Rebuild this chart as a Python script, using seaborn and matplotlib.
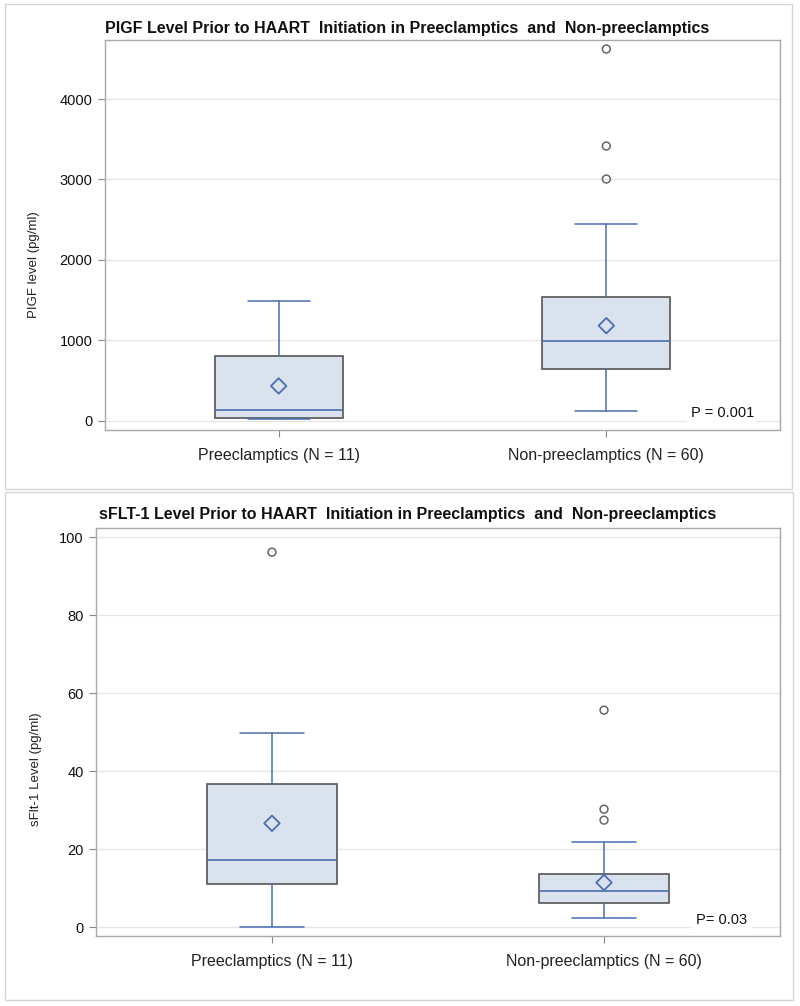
import matplotlib
matplotlib.use("Agg")
import matplotlib.pyplot as plt
import matplotlib.patches as mpatches
import pandas as pd
import seaborn as sns

# grupos y valores
grupos = ["Preeclamptics (N = 11)", "Non-preeclamptics (N = 60)"]

plgf_bigote_inf = [20, 128]
plgf_q1 = [33, 642]
plgf_mediana = [133, 997]
plgf_q3 = [807, 1540]
plgf_bigote_sup = [1487, 2447]
plgf_media = [435, 1184]
plgf_atipicos = [[], [3006, 3416, 4621]]

sflt_bigote_inf = [0.2, 2.5]
sflt_q1 = [11.2, 6.3]
sflt_mediana = [17.3, 9.3]
sflt_q3 = [36.7, 13.7]
sflt_bigote_sup = [49.8, 21.9]
sflt_media = [26.7, 11.5]
sflt_atipicos = [[96.2], [27.5, 30.3, 55.7]]

AZUL = "#4A6DB3"
RELLENO = "#DAE2EE"
BORDE = "#555555"
MARCO = "#A8A8A8"

sns.set_theme(style="whitegrid")
plt.rcParams["font.family"] = ["Liberation Sans", "DejaVu Sans"]


def graficar_panel(ax, titulo, ylabel, lo, q1, med, q3, hi, media, atipicos,
                   yticks, ylim, pval, pval_y, title_y, ylabel_xy):
    pos = list(range(len(grupos)))
    stats = []
    for i in pos:
        stats.append(dict(whislo=lo[i], q1=q1[i], med=med[i], q3=q3[i],
                          whishi=hi[i], fliers=[]))
    ax.bxp(stats, positions=pos, widths=0.39, patch_artist=True,
           showfliers=False,
           boxprops=dict(facecolor=RELLENO, edgecolor=BORDE, linewidth=1.2),
           medianprops=dict(color=AZUL, linewidth=1.2),
           whiskerprops=dict(color=AZUL, linewidth=1.1),
           capprops=dict(color=AZUL, linewidth=1.1),
           capwidths=0.19, zorder=2)

    df_media = pd.DataFrame({"x": pos, "y": media})
    sns.scatterplot(data=df_media, x="x", y="y", ax=ax, marker="D", s=62,
                    facecolor="none", edgecolor=AZUL, linewidth=1.3, zorder=4)
    xs, ys = [], []
    for i, vals in enumerate(atipicos):
        xs += [i] * len(vals)
        ys += vals
    df_out = pd.DataFrame({"x": xs, "y": ys})
    sns.scatterplot(data=df_out, x="x", y="y", ax=ax, marker="o", s=32,
                    facecolor="none", edgecolor="#666666", linewidth=1.1,
                    zorder=4)

    ax.set_xlim(-0.53, 1.53)
    ax.set_ylim(*ylim)
    ax.set_yticks(yticks)
    ax.set_xticks(pos)
    ax.set_xticklabels(grupos, fontsize=11.5, color="#222222")
    ax.tick_params(axis="y", labelsize=10.5, labelcolor="#111111", length=5,
                   width=0.8, left=True, color="#888888", pad=4)
    ax.tick_params(axis="x", length=5, width=0.8, bottom=True,
                   color="#888888", pad=8)
    ax.set_xlabel("")
    ax.set_ylabel(ylabel, fontsize=9.5, color="#222222")
    ax.yaxis.set_label_coords(*ylabel_xy)
    ax.grid(axis="x", visible=False)
    ax.grid(axis="y", color="#E6E6E6", linewidth=0.9)
    ax.set_axisbelow(True)
    for s in ax.spines.values():
        s.set_color(MARCO)
        s.set_linewidth(1.0)
    ax.text(0.915, pval_y, pval, transform=ax.transAxes, ha="center",
            va="center", fontsize=10.5, color="#111111",
            bbox=dict(facecolor="white", edgecolor="none", pad=3), zorder=5)
    ax.figure.text(0.509, title_y, titulo, ha="center", va="center",
                   fontsize=11.5, fontweight="bold", color="#111111")


fig = plt.figure(figsize=(8, 10.06), dpi=100)
fig.patch.set_facecolor("white")

# marcos de cada panel
for (x0, y0, x1, y1) in [(5, 4, 792, 489), (5, 492, 793, 1000)]:
    fig.patches.append(mpatches.Rectangle(
        (x0 / 800, 1 - y1 / 1006), (x1 - x0) / 800, (y1 - y0) / 1006,
        transform=fig.transFigure, fill=False, edgecolor="#D5D5D5",
        linewidth=1.0))

ax1 = fig.add_axes([105 / 800, 1 - 430 / 1006, 675 / 800, 390 / 1006])
graficar_panel(ax1,
               "PIGF Level Prior to HAART  Initiation in Preeclamptics  and  Non-preeclamptics",
               "PIGF level (pg/ml)",
               plgf_bigote_inf, plgf_q1, plgf_mediana, plgf_q3, plgf_bigote_sup,
               plgf_media, plgf_atipicos, [0, 1000, 2000, 3000, 4000],
               (-112, 4733), "P = 0.001", 0.044, 1 - 28 / 1006, (-0.097, 0.423))

ax2 = fig.add_axes([96 / 800, 1 - 936 / 1006, 684 / 800, 408 / 1006])
graficar_panel(ax2,
               "sFLT-1 Level Prior to HAART  Initiation in Preeclamptics  and  Non-preeclamptics",
               "sFlt-1 Level (pg/ml)",
               sflt_bigote_inf, sflt_q1, sflt_mediana, sflt_q3, sflt_bigote_sup,
               sflt_media, sflt_atipicos, [0, 20, 40, 60, 80, 100],
               (-2.2, 102.4), "P= 0.03", 0.04, 1 - 515 / 1006, (-0.079, 0.41))

fig.savefig("out.png", dpi=100)
plt.close(fig)
